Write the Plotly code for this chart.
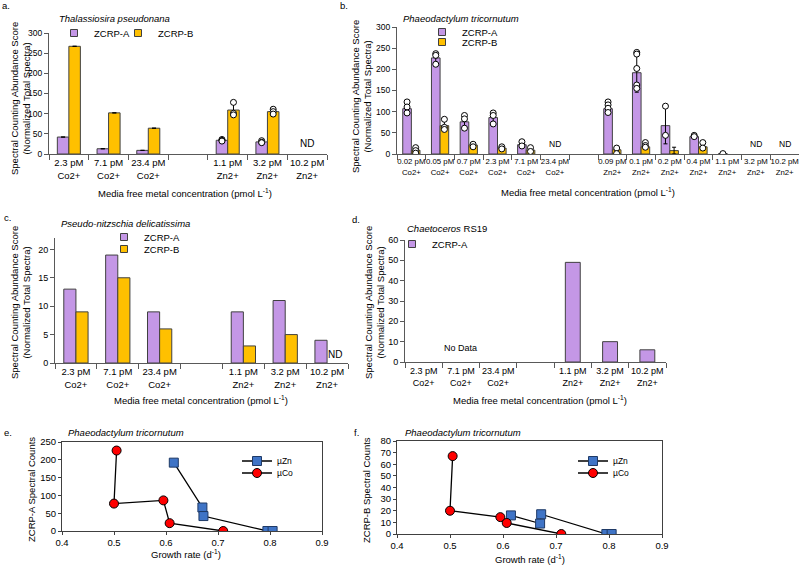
import plotly.graph_objects as go

W, H = 799, 565
FONT = 'Liberation Sans, Arial, sans-serif'
PURPLE = '#c497e6'
GOLD = '#ffc000'
BLUE = '#3f74c6'
RED = '#ff0000'
AXIS = '#595959'

# ---- a. Thalassiosira pseudonana ----
a_cats = ['2.3 pM<br>Co2+', '7.1 pM<br>Co2+', '23.4 pM<br>Co2+', '',
          '1.1 pM<br>Zn2+', '3.2 pM<br>Zn2+', '10.2 pM<br>Zn2+']
a_zcrp_a = [42, 13, 9, None, 34, 30, None]
a_zcrp_b = [267, 102, 64, None, 109, 105, None]
a_err_a = [None, None, None, None, 2, 3, None]
a_err_b = [None, None, None, None, 15, 6, None]
a_pts_a = [[], [], [], [], [36, 34, 32], [33, 29, 28], []]
a_pts_b = [[], [], [], [], [128, 101, 97], [111, 105, 99], []]
a_nd = [6]

# ---- b. Phaeodactylum tricornutum ----
b_cats = ['0.02 pM<br>Co2+', '0.05 pM<br>Co2+', '0.7 pM<br>Co2+', '2.3 pM<br>Co2+',
          '7.1 pM<br>Co2+', '23.4 pM<br>Co2+', '',
          '0.09 pM<br>Zn2+', '0.1 pM<br>Zn2+', '0.2 pM<br>Zn2+', '0.4 pM<br>Zn2+',
          '1.1 pM<br>Zn2+', '3.2 pM<br>Zn2+', '10.2 pM<br>Zn2+']
b_zcrp_a = [107, 227, 76, 86, 22, None, None, 107, 192, 67, 41, 1, None, None]
b_zcrp_b = [9, 67, 21, 14, 9, None, None, 10, 17, 8, 17, None, None, None]
b_err_a = [12, 13, 15, 13, 5, None, None, 11, 46, 43, 3, 1, None, None]
b_err_b = [6, 12, 3, 3, 4, None, None, 8, 6, 8, 7, None, None, None]
b_pts_a = [[123, 111, 97], [237, 233, 212], [91, 83, 61], [97, 91, 71], [29, 19], [], [],
           [123, 116, 108, 98], [240, 236, 202, 163, 155], [113, 44], [44, 41], [1], [], []]
b_pts_b = [[15, 8, 2], [82, 63, 58], [23, 17], [17, 12], [15, 6], [], [],
           [14, 1], [27, 20, 16], [], [27, 14], [], [], []]
b_nd = [5, 12, 13]

# ---- c. Pseudo-nitzschia delicatissima ----
c_cats = a_cats
c_zcrp_a = [13, 19, 9, None, 9, 11, 4]
c_zcrp_b = [9, 15, 6, None, 3, 5, None]

# ---- d. Chaetoceros RS19 ----
d_cats = a_cats
d_zcrp_a = [None, None, None, None, 49, 10, 6]

# ---- e / f. growth rate vs spectral counts ----
zn_mu = [0.615, 0.67, 0.672, 0.795, 0.805]
co_mu = [0.505, 0.50, 0.595, 0.607, 0.71]
e_zn = [192, 66, 42, 0, 0]
e_co = [226, 77, 86, 22, 0]
f_zn = [16, 9, 17, 0, 0]
f_co = [67, 20, 14.5, 9.5, 0]

fig = go.Figure()


def add_bars(ax, cats, vals_a, vals_b, err_a, err_b, pts_a, pts_b, w):
    xs = list(range(len(cats)))
    xa, ya = 'x' + ax, 'y' + ax
    series = [(vals_a, err_a, pts_a, PURPLE, -w)]
    if vals_b is not None:
        series.append((vals_b, err_b, pts_b, GOLD, 0))
    for vals, err, pts, col, off in series:
        bar = dict(x=xs, y=vals, offset=off, width=w, xaxis=xa, yaxis=ya,
                   marker=dict(color=col, line=dict(color='#404040', width=1)),
                   showlegend=False, hoverinfo='skip')
        if err is not None:
            bar['error_y'] = dict(type='data', array=err, visible=True, color='black',
                                  thickness=1, width=2)
        fig.add_trace(go.Bar(**bar))
        if pts is not None:
            px, py = [], []
            for i, p in enumerate(pts):
                for v in p:
                    px.append(i + off + w / 2)
                    py.append(v)
            fig.add_trace(go.Scatter(x=px, y=py, mode='markers', xaxis=xa, yaxis=ya,
                                     marker=dict(color='white', size=6,
                                                 line=dict(color='black', width=1)),
                                     showlegend=False, hoverinfo='skip'))


add_bars('', a_cats, a_zcrp_a, a_zcrp_b, a_err_a, a_err_b, a_pts_a, a_pts_b, 0.29)
add_bars('2', b_cats, b_zcrp_a, b_zcrp_b, b_err_a, b_err_b, b_pts_a, b_pts_b, 0.3)
add_bars('3', c_cats, c_zcrp_a, c_zcrp_b, None, None, None, None, 0.29)
add_bars('4', d_cats, d_zcrp_a, None, None, None, None, None, 0.4)
# d bars are centred on the slot
fig.data[-1].offset = -0.2

zn_style = dict(mode='lines+markers', line=dict(color='black', width=1.3),
                marker=dict(symbol='square', size=9, color=BLUE, line=dict(color='#1f3a66', width=1)))
co_style = dict(mode='lines+markers', line=dict(color='black', width=1.3),
                marker=dict(symbol='circle', size=9, color=RED, line=dict(color='black', width=1)))
fig.add_trace(go.Scatter(x=zn_mu, y=e_zn, name='µZn', xaxis='x5', yaxis='y5', legend='legend8', **zn_style))
fig.add_trace(go.Scatter(x=co_mu, y=e_co, name='µCo', xaxis='x5', yaxis='y5', legend='legend9', **co_style))
fig.add_trace(go.Scatter(x=zn_mu, y=f_zn, name='µZn', xaxis='x6', yaxis='y6', legend='legend10', **zn_style))
fig.add_trace(go.Scatter(x=co_mu, y=f_co, name='µCo', xaxis='x6', yaxis='y6', legend='legend11', **co_style))

# legend keys for the bar panels
keys = [('', 'ZCRP-A', PURPLE, 'legend'), ('', 'ZCRP-B', GOLD, 'legend2'),
        ('2', 'ZCRP-A', PURPLE, 'legend3'), ('2', 'ZCRP-B', GOLD, 'legend4'),
        ('3', 'ZCRP-A', PURPLE, 'legend5'), ('3', 'ZCRP-B', GOLD, 'legend6'),
        ('4', 'ZCRP-A', PURPLE, 'legend7')]
for ax, name, col, lg in keys:
    fig.add_trace(go.Scatter(x=[None], y=[None], mode='markers', name=name, legend=lg,
                             xaxis='x' + ax, yaxis='y' + ax,
                             marker=dict(symbol='square', size=7, color=col,
                                         line=dict(color='#404040', width=1))))


def px_dom(x0, x1):
    return [x0 / W, x1 / W]


def py_dom(top, bottom):
    return [1 - bottom / H, 1 - top / H]


def cat_xaxis(cats, x0, x1, size, anchor):
    n = len(cats)
    return dict(domain=px_dom(x0, x1), range=[-0.5, n - 0.5], tickmode='array',
                tickvals=list(range(n)), ticktext=cats, ticks='', tickangle=0, anchor=anchor,
                showline=True, linecolor=AXIS, linewidth=1, showgrid=False, zeroline=False,
                tickfont=dict(size=size, family=FONT, color='black'),
                minor=dict(tickmode='array', tickvals=[i - 0.5 for i in range(n + 1)],
                           ticks='outside', ticklen=5, tickcolor=AXIS, showgrid=False))


def val_yaxis(xname, top, bottom, rng, dtick, size=9):
    return dict(domain=py_dom(top, bottom), range=rng, dtick=dtick, anchor=xname,
                showline=True, linecolor=AXIS, linewidth=1, ticks='outside', ticklen=4,
                tickcolor=AXIS, showgrid=False, zeroline=False,
                tickfont=dict(size=size, family=FONT, color='black'))


def box_axes(x0, x1, top, bottom, yrng, ydt, yname, xname):
    xa = dict(domain=px_dom(x0, x1), range=[0.4, 0.9], dtick=0.1, tickformat='.1f',
              anchor=yname, showline=True, mirror=True, linecolor='#404040', linewidth=1,
              ticks='outside', ticklen=3, tickcolor='#404040', showgrid=False, zeroline=False,
              tickfont=dict(size=9.5, family=FONT, color='black'))
    ya = dict(domain=py_dom(top, bottom), range=yrng, dtick=ydt, anchor=xname,
              showline=True, mirror=True, linecolor='#404040', linewidth=1,
              ticks='outside', ticklen=3, tickcolor='#404040', showgrid=False, zeroline=False,
              tickfont=dict(size=9.5, family=FONT, color='black'))
    return xa, ya


xa5, ya5 = box_axes(62, 322, 442, 531, [0, 250], 50, 'y5', 'x5')
xa6, ya6 = box_axes(397, 662, 441, 534, [0, 80], 10, 'y6', 'x6')


def leg(text_x, cy, size=9.5):
    return dict(x=(text_x - 40) / W, y=1 - cy / H, xanchor='left', yanchor='middle',
                bgcolor='rgba(0,0,0,0)', itemwidth=30, itemclick=False,
                font=dict(size=size, family=FONT, color='black'))


def txt(x, y, s, size=9.5, xanchor='center', **kw):
    return dict(x=x / W, y=1 - y / H, xref='paper', yref='paper', text=s, showarrow=False,
                xanchor=xanchor, yanchor='middle',
                font=dict(size=size, family=FONT, color='black'), **kw)


ytitle = 'Spectral Counting Abundance Score<br>(Normalized Total Spectra)'
xtitle = 'Media free metal concentration (pmol L<sup>-1</sup>)'
ann = [
    txt(0, 5, 'a.', xanchor='left'), txt(338, 5, 'b.', xanchor='left'),
    txt(2, 217, 'c.', xanchor='left'), txt(350, 219, 'd.', xanchor='left'),
    txt(2, 433, 'e.', xanchor='left'), txt(352, 432, 'f.', xanchor='left'),
    txt(57, 19, '<i>Thalassiosira pseudonana</i>', xanchor='left'),
    txt(401, 19, '<i>Phaeodactylum tricornutum</i>', xanchor='left'),
    txt(59, 223, '<i>Pseudo-nitzschia delicatissima</i>', xanchor='left'),
    txt(405, 228, '<i>Chaetoceros</i> RS19', xanchor='left'),
    txt(66, 433, '<i>Phaeodactylum tricornutum</i>', xanchor='left'),
    txt(403, 433, '<i>Phaeodactylum tricornutum</i>', xanchor='left'),
    txt(21, 99, ytitle, textangle=-90),
    txt(362, 97, ytitle, textangle=-90),
    txt(20, 303, ytitle, textangle=-90),
    txt(374, 303, ytitle, textangle=-90),
    txt(31, 490, 'ZCRP-A Spectral Counts', textangle=-90),
    txt(366, 490, 'ZCRP-B Spectral Counts', textangle=-90),
    txt(185, 193, xtitle), txt(588, 192, xtitle),
    txt(201, 400, xtitle), txt(540, 400, xtitle),
    txt(186, 554, 'Growth rate (d<sup>-1</sup>)'),
    txt(530, 559, 'Growth rate (d<sup>-1</sup>)'),
]
for i in a_nd:
    ann.append(dict(x=i, y=0, xref='x', yref='y', text='ND', showarrow=False, yanchor='bottom',
                    yshift=3, font=dict(size=10, family=FONT, color='black')))
for i in b_nd:
    ann.append(dict(x=i, y=0, xref='x2', yref='y2', text='ND', showarrow=False, yanchor='bottom',
                    yshift=3, font=dict(size=8.5, family=FONT, color='black')))
ann.append(dict(x=6.2, y=0, xref='x3', yref='y3', text='ND', showarrow=False, yanchor='bottom',
                yshift=1, font=dict(size=10, family=FONT, color='black')))
ann.append(dict(x=1, y=7, xref='x4', yref='y4', text='No Data', showarrow=False,
                font=dict(size=9, family=FONT, color='black')))

fig.update_layout(
    width=W, height=H, margin=dict(l=0, r=0, t=0, b=0, autoexpand=False),
    plot_bgcolor='white', paper_bgcolor='white',
    font=dict(family=FONT, color='black'),
    barmode='overlay',
    xaxis=cat_xaxis(a_cats, 49, 327, 9.5, 'y'), yaxis=val_yaxis('x', 33, 154, [0, 300], 50, 8.5),
    xaxis2=cat_xaxis(b_cats, 397, 799, 7.8, 'y2'), yaxis2=val_yaxis('x2', 27, 154, [0, 300], 50, 8.5),
    xaxis3=cat_xaxis(c_cats, 55, 348, 9.5, 'y3'), yaxis3=val_yaxis('x3', 238, 363, [0, 22], 5),
    xaxis4=cat_xaxis(d_cats, 405, 666, 9, 'y4'), yaxis4=val_yaxis('x4', 240, 362, [0, 60], 10),
    xaxis5=xa5, yaxis5=ya5, xaxis6=xa6, yaxis6=ya6,
    legend=leg(94, 33), legend2=leg(158, 33),
    legend3=leg(462, 32), legend4=leg(462, 42),
    legend5=leg(144, 237), legend6=leg(144, 249),
    legend7=leg(432, 244),
    legend8=leg(277, 461, 8.5), legend9=leg(277, 473, 8.5),
    legend10=leg(613, 461, 8.5), legend11=leg(613, 473, 8.5),
    annotations=ann,
)

# the page body has a default 8px margin; drop it so the figure sits at the window corner
fig.write_html('out.html', config={'displayModeBar': False},
               post_script="document.body.style.margin='0';")
